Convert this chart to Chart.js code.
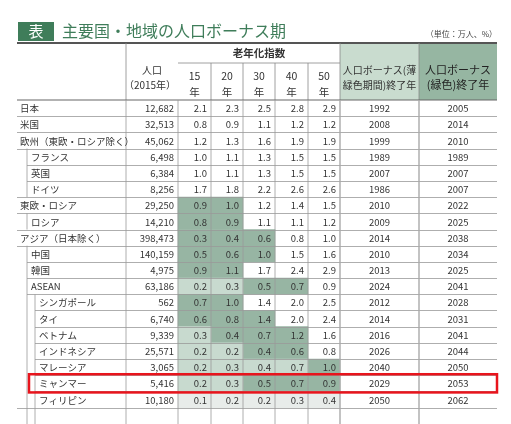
<!DOCTYPE html>
<html><head><meta charset="utf-8">
<script src="https://cdn.jsdelivr.net/npm/chart.js@4"></script>
<style>html,body{margin:0;padding:0;background:#fff;overflow:hidden;width:511px;height:424px}canvas{display:block}</style>
</head><body><div style="width:511px;height:440px"><canvas id="c" width="511" height="440"></canvas></div>
<script>
const labels=['日本','米国','欧州（東欧・ロシア除く）','フランス','英国','ドイツ','東欧・ロシア','ロシア','アジア（日本除く）','中国','韓国','ASEAN','シンガポール','タイ','ベトナム','インドネシア','マレーシア','ミャンマー','フィリピン'];
const indent=[0,0,0,1,1,1,0,1,0,1,1,1,2,2,2,2,2,2,2];
const population=['12,682','32,513','45,062','6,498','6,384','8,256','29,250','14,210','398,473','140,159','4,975','63,186','562','6,740','9,339','25,571','3,065','5,416','10,180'];
const idx15=[2.1,0.8,1.2,1.0,1.0,1.7,0.9,0.8,0.3,0.5,0.9,0.2,0.7,0.6,0.3,0.2,0.2,0.2,0.1];
const idx20=[2.3,0.9,1.3,1.1,1.1,1.8,1.0,0.9,0.4,0.6,1.1,0.3,1.0,0.8,0.4,0.2,0.3,0.3,0.2];
const idx30=[2.5,1.1,1.6,1.3,1.3,2.2,1.2,1.1,0.6,1.0,1.7,0.5,1.4,1.4,0.7,0.4,0.4,0.5,0.2];
const idx40=[2.8,1.2,1.9,1.5,1.5,2.6,1.4,1.1,0.8,1.5,2.4,0.7,2.0,2.0,1.2,0.6,0.7,0.7,0.3];
const idx50=[2.9,1.2,1.9,1.5,1.5,2.6,1.5,1.2,1.0,1.6,2.9,0.9,2.5,2.4,1.6,0.8,1.0,0.9,0.4];
const endLight=[1992,2008,1999,1989,2007,1986,2010,2009,2014,2010,2013,2024,2012,2014,2016,2026,2040,2029,2050];
const endGreen=[2005,2014,2010,1989,2007,2007,2022,2025,2038,2034,2025,2041,2028,2031,2041,2044,2050,2053,2062];
// shade codes per row for 15,20,30,40,50 columns: 0 none,1 light,2 dark,3 pale grey
const shades=['00000','00000','00000','00000','00000','00000','22000','22000','22200','22200','22000','11220','22000','22200','12220','11220','11112','11222','33333'];
const idxCols=[idx15,idx20,idx30,idx40,idx50];
const colTitles=['15','20','30','40','50'];

const X0=17, edges=[0,109,161,194,226,258,291,323,402,480];
const palette=['rgba(0,0,0,0)','#c8dacf','#97b5a3','#e8ecea'];
const rowNames=labels.concat(['','']);

const datasets=idxCols.map((arr,j)=>({
  data:rowNames.map((_,i)=>i<labels.length?[edges[2+j],edges[3+j]]:null),
  backgroundColor:rowNames.map((_,i)=>i<labels.length?palette[+shades[i][j]]:'rgba(0,0,0,0)'),
  borderWidth:0,barPercentage:1,categoryPercentage:1,grouped:false
}));
const F='"Noto Sans CJK JP","Noto Sans",sans-serif';
const tablePlugin={id:'tbl',afterDraw(ch){
  const c=ch.ctx,xs=ch.scales.x,ys=ch.scales.y;
  const px=v=>xs.getPixelForValue(v);
  const top=i=>ys.getPixelForValue(i)-(ys.getPixelForValue(1)-ys.getPixelForValue(0))/2;
  const bot=i=>top(i+1);
  const ix=[px(0),px(10),px(18)];
  c.save();
  c.fillStyle='#c9dccf';c.fillRect(px(edges[7]),43,px(edges[8])-px(edges[7]),57);
  c.fillStyle='#96b6a2';c.fillRect(px(edges[8]),43,px(edges[9])-px(edges[8]),57);
  c.fillStyle='#3f7d5a';c.fillRect(18,22,36,19);
  c.fillStyle='#fff';c.font='15px '+F;c.textAlign='center';c.textBaseline='middle';c.fillText('表',36,31.5);
  c.fillStyle='#3f7d5a';c.textAlign='left';c.font='16px '+F;c.fillText('主要国・地域の人口ボーナス期',62,31);
  c.fillStyle='#444';c.font='8px '+F;c.textAlign='right';c.fillText('（単位：万人、%）',497,34);
  c.strokeStyle='#555';c.lineWidth=2;c.beginPath();c.moveTo(17,43);c.lineTo(497,43);c.stroke();
  c.fillStyle='#333';c.textAlign='center';c.font='10px '+F;
  const mid=(a,b)=>(px(edges[a])+px(edges[b]))/2;
  c.fillText('人口',mid(1,2),70);c.fillText('（2015年）',mid(1,2)-2,85);
  c.font='bold 10.5px '+F;c.fillText('老年化指数',mid(2,7),53);c.font='10.5px '+F;
  colTitles.forEach((t,j)=>{c.fillText(t,mid(2+j,3+j),76);c.fillText('年',mid(2+j,3+j),92);});
  c.font='10px '+F;
  c.fillText('人口ボーナス(薄',mid(7,8),70);c.fillText('緑色期間)終了年',mid(7,8),85);
  c.fillStyle='#222';c.font='11px '+F;
  c.fillText('人口ボーナス',mid(8,9),70);c.fillText('(緑色)終了年',mid(8,9),85);
  c.strokeStyle='#888';c.lineWidth=0.8;
  c.beginPath();c.moveTo(px(edges[2]),63);c.lineTo(px(edges[7]),63);c.stroke();
  [1,7,8].forEach(k=>{c.beginPath();c.moveTo(px(edges[k]),43);c.lineTo(px(edges[k]),100);c.stroke();});
  [3,4,5,6].forEach(k=>{c.beginPath();c.moveTo(px(edges[k]),63);c.lineTo(px(edges[k]),100);c.stroke();});
  c.strokeStyle='#666';c.lineWidth=1.2;c.beginPath();c.moveTo(17,100);c.lineTo(497,100);c.stroke();
  c.strokeStyle='#999';c.lineWidth=0.8;
  for(let i=1;i<=labels.length;i++){
    const lv=i<labels.length?Math.min(indent[i-1],indent[i]):0;
    const y=Math.round(top(i))+0.5;
    c.beginPath();c.moveTo(ix[lv],y);c.lineTo(497,y);c.stroke();
  }
  for(let k=1;k<=8;k++){c.lineWidth=(k>=7)?1.4:0.8;c.strokeStyle=k>=7?'#aaa':'#999';
    c.beginPath();c.moveTo(px(edges[k]),100);c.lineTo(px(edges[k]),440);c.stroke();}
  c.lineWidth=0.8;c.strokeStyle='#999';
  for(let lv=1;lv<=2;lv++){let s=-1;
    for(let i=0;i<=labels.length;i++){const inn=i<labels.length&&indent[i]>=lv;
      if(inn&&s<0)s=i; if(!inn&&s>=0){c.beginPath();c.moveTo(ix[lv],top(s));c.lineTo(ix[lv],i<labels.length?bot(i-1):440);c.stroke();s=-1;}}}
  c.fillStyle='#333';c.font='9.5px '+F;c.textBaseline='middle';
  labels.forEach((l,i)=>{const y=ys.getPixelForValue(i)+0.5;
    c.textAlign='left';c.fillText(l,ix[indent[i]]+(indent[i]?4:3),y);
    c.textAlign='right';c.fillText(population[i],px(edges[2])-4,y);
    idxCols.forEach((a,j)=>c.fillText(a[i].toFixed(1),px(edges[3+j])-4,y));
    c.textAlign='center';c.fillText(endLight[i],mid(7,8),y);c.fillText(endGreen[i],mid(8,9),y);
  });
  const hi=labels.indexOf('ミャンマー');
  c.strokeStyle='#e8141c';c.lineWidth=2.5;c.strokeRect(ix[1]+2,top(hi)-1,497-ix[1]-2,bot(hi)-top(hi)+2);
  c.restore();
}};
new Chart(document.getElementById('c'),{type:'bar',
  data:{labels:rowNames,datasets},
  options:{indexAxis:'y',responsive:false,animation:false,
    layout:{padding:{left:X0,right:511-497,top:100,bottom:0}},
    plugins:{legend:{display:false},tooltip:{enabled:false}},
    scales:{x:{type:'linear',min:0,max:480,display:false},
            y:{type:'category',display:false,offset:true}}},
  plugins:[tablePlugin]});
</script></body></html>
